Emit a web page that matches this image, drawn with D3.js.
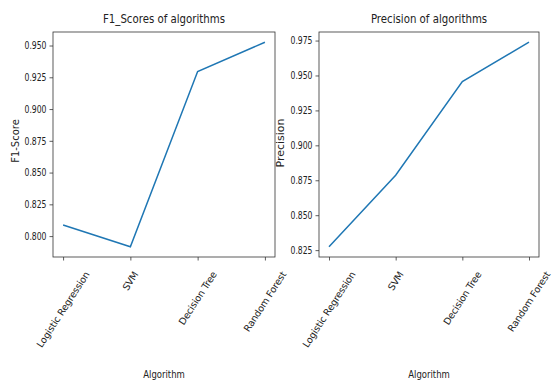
<!DOCTYPE html>
<html>
<head>
<meta charset="utf-8">
<script src="https://cdn.jsdelivr.net/npm/d3@7"></script>
<style>
  body { margin: 0; background: #fff; }
  text { font-family: "DejaVu Sans", sans-serif; fill: #222; }
</style>
</head>
<body>
<div id="chart"></div>
<script>
const algorithms = ['Logistic Regression', 'SVM', 'Decision Tree', 'Random Forest'];
const f1Scores = [0.8087, 0.7916, 0.9296, 0.9526];
const precisions = [0.8274, 0.8786, 0.9457, 0.9738];
const f1Ticks = [0.800, 0.825, 0.850, 0.875, 0.900, 0.925, 0.950];
const precisionTicks = [0.825, 0.850, 0.875, 0.900, 0.925, 0.950, 0.975];

const tickSqueeze = 0.77;   // y tick labels look narrow in the reference
const titleSqueeze = 0.85;
const labelAngle = 57;

const svg = d3.select('#chart').append('svg')
    .attr('width', 552)
    .attr('height', 389);

function drawPanel(opts) {
    const { left, right, top, bottom, values, ticks, title, ylabel } = opts;

    const x = d3.scalePoint().domain(algorithms).range([left, right]).padding(0.15);
    const [lo, hi] = d3.extent(values);
    const m = (hi - lo) * 0.05;
    const y = d3.scaleLinear().domain([lo - m, hi + m]).range([bottom, top]);

    const g = svg.append('g');

    // y axis
    const yAxis = g.append('g')
        .attr('transform', `translate(${left},0)`)
        .call(d3.axisLeft(y).tickValues(ticks).tickFormat(d3.format('.3f')).tickSizeOuter(0).tickSize(3.5));
    yAxis.select('.domain').remove();
    yAxis.selectAll('line').attr('stroke', '#333').attr('stroke-width', 0.8);
    yAxis.selectAll('text')
        .attr('x', -6.5 / tickSqueeze)
        .attr('font-size', 10)
        .attr('transform', `scale(${tickSqueeze},1)`)
        .style('fill', '#222');

    // x axis ticks
    const xAxis = g.append('g')
        .attr('transform', `translate(0,${bottom})`)
        .call(d3.axisBottom(x).tickSize(3.5).tickSizeOuter(0).tickFormat(''));
    xAxis.select('.domain').remove();
    xAxis.selectAll('line').attr('stroke', '#333').attr('stroke-width', 0.8);

    // rotated category labels, centred under each tick
    const a = labelAngle * Math.PI / 180;
    algorithms.forEach(name => {
        const t = g.append('text')
            .attr('font-size', 9.5)
            .attr('letter-spacing', -0.15)
            .attr('text-anchor', 'middle')
            .attr('dy', '0.35em')
            .text(name);
        const w = t.node().getComputedTextLength();
        const bh = w * Math.sin(a) + 9 * Math.cos(a);
        const cy = bottom + 13 + bh / 2;
        t.attr('transform', `translate(${x(name)},${cy}) rotate(${-labelAngle})`);
    });

    // line
    g.append('path')
        .datum(values)
        .attr('fill', 'none')
        .attr('stroke', '#1f77b4')
        .attr('stroke-width', 1.5)
        .attr('d', d3.line().x((d, i) => x(algorithms[i])).y(d => y(d)));

    // frame
    g.append('rect')
        .attr('x', left).attr('y', top)
        .attr('width', right - left).attr('height', bottom - top)
        .attr('fill', 'none').attr('stroke', '#333').attr('stroke-width', 0.8);

    // title
    g.append('text')
        .attr('transform', `translate(${(left + right) / 2},${top - 9}) scale(${titleSqueeze},1)`)
        .attr('text-anchor', 'middle')
        .attr('font-size', 12)
        .text(title);

    // axis labels
    g.append('text')
        .attr('transform', `translate(${(left + right) / 2},378) scale(${titleSqueeze},1)`)
        .attr('text-anchor', 'middle')
        .attr('font-size', 10)
        .text('Algorithm');

    g.append('text')
        .attr('transform', `translate(${opts.ylabelX},${opts.ylabelY}) rotate(-90)`)
        .attr('text-anchor', 'middle')
        .attr('font-size', opts.ylabelSize)
        .text(ylabel);
}

drawPanel({
    left: 53, right: 275, top: 32, bottom: 257,
    values: f1Scores, ticks: f1Ticks,
    title: 'F1_Scores of algorithms', ylabel: 'F1-Score',
    ylabelX: 19, ylabelY: 141, ylabelSize: 10
});

drawPanel({
    left: 319, right: 539, top: 32, bottom: 257,
    values: precisions, ticks: precisionTicks,
    title: 'Precision of algorithms', ylabel: 'Precision',
    ylabelX: 284, ylabelY: 143, ylabelSize: 11
});
</script>
</body>
</html>
